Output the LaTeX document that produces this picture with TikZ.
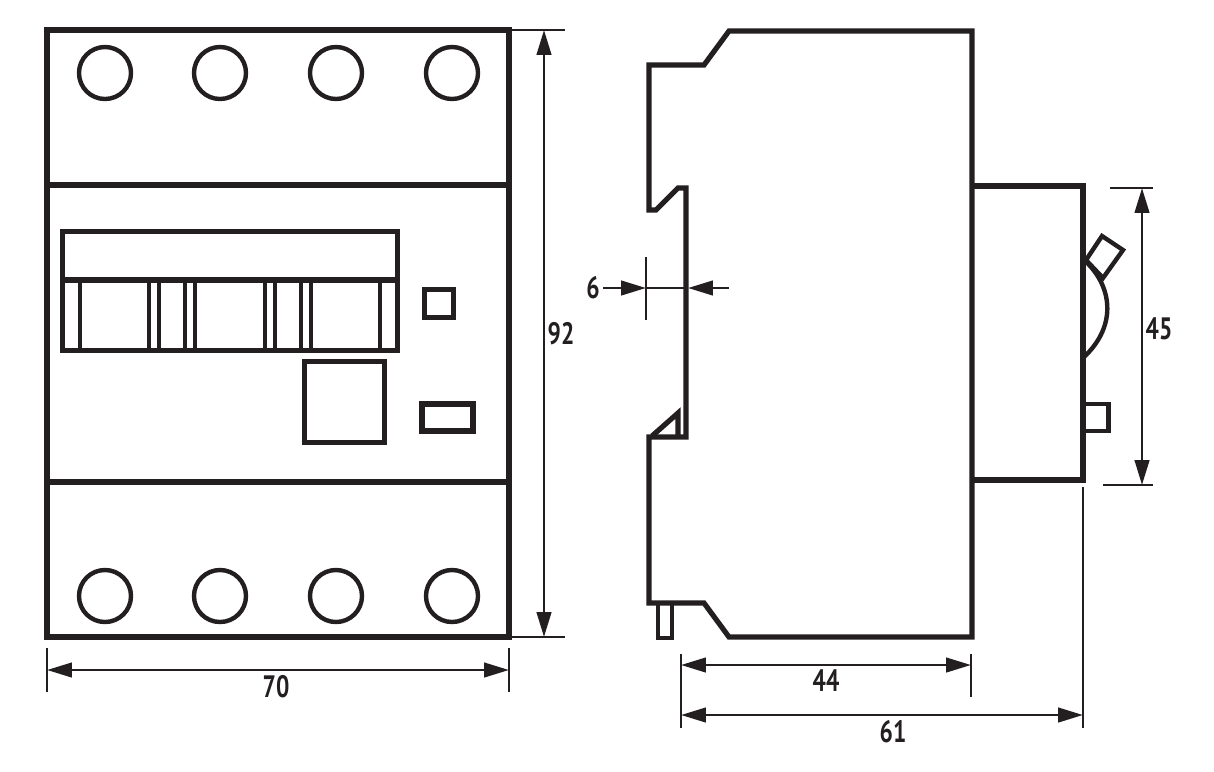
\documentclass[tikz,border=0pt]{standalone}
\usepackage{xcolor}
\usepackage{fontspec}
\setmainfont[FakeStretch=0.76]{PT Sans}
\usetikzlibrary{arrows.meta}
\definecolor{ink}{HTML}{231F20}
\tikzstyle{outline} = [draw=ink, line width=0.13cm, line join=miter]
\tikzstyle{inner} = [draw=ink, line width=0.085cm]
\tikzstyle{screw} = [draw=ink, line width=0.11cm, circle, minimum size=1.3cm, inner sep=0pt]
\tikzstyle{dimline} = [draw=ink, line width=0.07cm]
\tikzstyle{arrow} = [dimline, {Triangle[length=0.62cm,width=0.36cm]}-{Triangle[length=0.62cm,width=0.36cm]}]
\tikzstyle{arrowin} = [dimline, -{Triangle[length=0.62cm,width=0.36cm]}]
\tikzstyle{dimtext} = [text=ink, font=\fontsize{22}{22}\selectfont\bfseries, inner sep=0pt]

\begin{document}
\begin{tikzpicture}[x=0.025cm, y=-0.025cm]
  \useasboundingbox (0,0) rectangle (1214,771);

  % Front view
  \draw [outline] (47,30) rectangle (509,637);
  \draw [outline] (47,185) -- (509,185);
  \draw [outline] (47,482) -- (509,482);

  % Screws
  \foreach \name/\px in {a/105, b/220, c/336, d/452} {
    \node (top\name) [screw] at (\px,73) {};
    \node (bot\name) [screw] at (\px,596) {};
  }

  % Switch block
  \draw [outline] (62.5,231.5) rectangle (397.5,350.5);
  \draw [outline] (62.5,280) -- (397.5,280);
  \foreach \px in {80, 149, 159, 185, 195, 265, 275, 301, 311, 380} {
    \draw [inner] (\px,280) -- (\px,350);
  }

  % Small parts on the front
  \draw [outline] (424.5,289.5) rectangle (453.5,317.5);
  \draw [outline] (304.5,361.5) rectangle (384.5,442.5);
  \draw [outline] (422,404) rectangle (473,431);

  % Side view
  \draw [outline] (704,65) -- (729,31) -- (972,31) -- (972,637) -- (729,637) -- (704,603)
    -- (649,603) -- (649,437) -- (686,437) -- (686,188) -- (678,188) -- (656,210)
    -- (649,210) -- (649,65) -- cycle;
  \draw [outline] (652,436) -- (678,413) -- (678,437);
  \draw [inner] (658,603) rectangle (672,638);

  % Right part with toggle
  \draw [outline] (972,186) -- (1083,186) -- (1083,480) -- (972,480);
  \draw [outline, line width=0.11cm] (1086,260) -- (1102,236) -- (1123,250) -- (1103,278) -- cycle;
  \draw [outline, line width=0.11cm] (1084,260) .. controls (1112,285) and (1118,325) .. (1084,357);
  \draw [outline, line width=0.11cm] (1083,404) -- (1108.5,404) -- (1108.5,431) -- (1083,431);

  % Dimensions front view
  \draw [dimline] (510,30) -- (565,30);
  \draw [dimline] (510,637) -- (565,637);
  \draw [arrow] (544,30) -- (544,637);
  \node (ninetytwo) [dimtext] at (561,334) {92};

  \draw [dimline] (47,648) -- (47,692);
  \draw [dimline] (509,648) -- (509,692);
  \draw [arrow] (47,670) -- (509,670);
  \node (seventy) [dimtext] at (276,687) {70};

  % Dimension of the rail notch
  \draw [dimline] (646,257) -- (646,320);
  \draw [dimline] (646,288) -- (688,288);
  \draw [arrowin] (603,288) -- (646,288);
  \draw [arrowin] (729,288) -- (688,288);
  \node (six) [dimtext] at (593,288) {6};

  % Dimensions side view
  \draw [dimline] (1110,188) -- (1153,188);
  \draw [dimline] (1103,485) -- (1153,485);
  \draw [arrow] (1142,188) -- (1142,485);
  \node (fortyfive) [dimtext] at (1159,329) {45};

  \draw [dimline] (681,654) -- (681,728);
  \draw [dimline] (971,654) -- (971,697);
  \draw [dimline] (1083,487) -- (1083,728);
  \draw [arrow] (681,665) -- (971,665);
  \draw [arrow] (681,715) -- (1083,715);
  \node (fortyfour) [dimtext] at (826,681) {44};
  \node (sixtyone) [dimtext] at (893,732) {61};
\end{tikzpicture}
\end{document}
